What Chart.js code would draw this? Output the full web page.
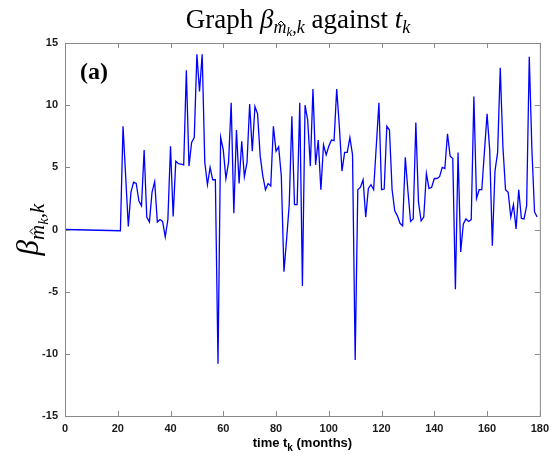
<!DOCTYPE html>
<html>
<head>
<meta charset="utf-8">
<script src="https://cdn.jsdelivr.net/npm/chart.js@4.4.0/dist/chart.umd.min.js"></script>
<style>
html, body { margin: 0; padding: 0; background: #fff; }
#wrap { width: 555px; height: 463px; }
</style>
</head>
<body>
<div id="wrap"><canvas id="c" width="555" height="463"></canvas></div>
<script>
const months = [0, 21, 22, 24, 25, 26, 27, 28, 29, 30, 31, 32, 33, 34, 35, 36, 37, 38, 39, 40,
  41, 42, 43, 44, 45, 46, 47, 48, 49, 50, 51, 52, 53, 54, 55, 56, 57, 58, 59, 60,
  61, 62, 63, 64, 65, 66, 67, 68, 69, 70, 71, 72, 73, 74, 75, 76, 77, 78, 79, 80,
  81, 82, 83, 84, 85, 86, 87, 88, 89, 90, 91, 92, 93, 94, 95, 96, 97, 98, 99, 100,
  101, 102, 103, 104, 105, 106, 107, 108, 109, 110, 111, 112, 113, 114, 115, 116, 117, 119, 120,
  121, 122, 123, 124, 125, 126, 127, 128, 129, 130, 131, 132, 133, 134, 135, 136, 137, 138, 139, 140,
  141, 142, 143, 144, 145, 146, 147, 148, 149, 150, 151, 152, 153, 154, 155, 156, 157, 158, 160,
  161, 162, 163, 164, 165, 166, 167, 168, 169, 170, 171, 172, 173, 174, 175, 176, 177, 178, 179];
const beta = [0, -0.1, 8.3, 0.25, 3.0, 3.8, 3.7, 2.3, 1.9, 6.4, 1.0, 0.6, 3.0, 3.85, 0.6, 0.8, 0.65, -0.6, 0.8, 6.7,
  1.05, 5.5, 5.3, 5.25, 5.2, 12.8, 5.1, 7.0, 7.4, 14.1, 11.1, 14.1, 5.4, 3.6, 5.0, 4.0, 4.0, -10.8, 7.4, 6.4,
  4.1, 5.4, 10.2, 1.3, 8.0, 3.7, 7.1, 4.25, 5.4, 10.1, 6.3, 9.9, 9.3, 5.9, 4.3, 3.2, 3.7, 3.5, 8.3, 6.3,
  6.65, 4.3, -3.4, -0.8, 2.0, 9.1, 2.0, 2.0, 10.2, -4.55, 10.0, 8.8, 5.1, 11.3, 5.2, 7.2, 3.2, 6.8, 6.0, 6.7,
  7.2, 7.15, 11.3, 8.3, 4.7, 6.2, 6.2, 7.4, 6.0, -10.5, 3.2, 3.4, 4.0, 1.0, 3.3, 3.6, 3.2, 10.2, 3.2,
  3.25, 8.3, 8.0, 3.2, 1.5, 1.1, 0.5, 0.3, 5.8, 3.1, 0.65, 0.85, 8.6, 2.2, 0.7, 1.0, 4.5, 3.3, 3.4, 4.1,
  4.1, 4.25, 5.0, 4.9, 7.7, 5.9, 5.7, -4.8, 6.2, -1.8, 0.45, 0.85, 0.65, 0.8, 10.7, 2.5, 3.2, 3.2, 9.3,
  6.4, -1.3, 4.7, 6.2, 13.0, 6.7, 3.2, 3.0, 1.0, 2.0, 0.05, 3.2, 0.9, 0.85, 1.9, 13.9, 6.4, 1.4, 1.0];
const xTicks = [0, 20, 40, 60, 80, 100, 120, 140, 160, 180];
const yTicks = [-15, -10, -5, 0, 5, 10, 15];

const serif = '"Liberation Serif", "DejaVu Serif", serif';
const sans = '"Liberation Sans", Arial, sans-serif';

// draws a row of text pieces, each piece: {t, f, dy, hat}
function drawPieces(ctx, pieces, x, y, align) {
  let total = 0;
  pieces.forEach(p => { ctx.font = p.f; p.w = ctx.measureText(p.t).width; total += p.w; });
  let cx = align === 'center' ? x - total / 2 : x;
  ctx.textAlign = 'left';
  ctx.textBaseline = 'alphabetic';
  pieces.forEach(p => {
    ctx.font = p.f;
    ctx.fillText(p.t, cx, y + (p.dy || 0));
    if (p.hat) {
      ctx.save();
      ctx.lineWidth = 1;
      ctx.beginPath();
      let hx = cx + p.w / 2 + 1, hy = y + (p.dy || 0) - p.hat;
      ctx.moveTo(hx - 3, hy + 2);
      ctx.lineTo(hx, hy - 1);
      ctx.lineTo(hx + 3, hy + 2);
      ctx.stroke();
      ctx.restore();
    }
    cx += p.w;
  });
}

const decor = {
  id: 'decor',
  afterDraw(chart) {
    const ctx = chart.ctx;
    const a = chart.chartArea;
    const xs = chart.scales.x, ys = chart.scales.y;
    ctx.save();
    ctx.strokeStyle = '#8a8a8a';
    ctx.lineWidth = 1;
    ctx.strokeRect(a.left + 0.5, a.top + 0.5, a.right - a.left, a.bottom - a.top);
    ctx.beginPath();
    xTicks.forEach(v => {
      let px = Math.round(xs.getPixelForValue(v)) + 0.5;
      ctx.moveTo(px, a.bottom); ctx.lineTo(px, a.bottom - 5);
      ctx.moveTo(px, a.top); ctx.lineTo(px, a.top + 5);
    });
    yTicks.forEach(v => {
      let py = Math.round(ys.getPixelForValue(v)) + 0.5;
      ctx.moveTo(a.left, py); ctx.lineTo(a.left + 5, py);
      ctx.moveTo(a.right, py); ctx.lineTo(a.right - 5, py);
    });
    ctx.stroke();

    ctx.fillStyle = '#000';
    ctx.strokeStyle = '#000';
    drawPieces(ctx, [
      { t: 'Graph ', f: '27px ' + serif },
      { t: 'β', f: 'italic 27px ' + serif },
      { t: 'm', f: 'italic 18px ' + serif, dy: 5, hat: 11 },
      { t: 'k', f: 'italic 13px ' + serif, dy: 8 },
      { t: ',k', f: 'italic 18px ' + serif, dy: 5 },
      { t: ' against ', f: '27px ' + serif },
      { t: 't', f: 'italic 27px ' + serif },
      { t: 'k', f: 'italic 18px ' + serif, dy: 5 }
    ], 298, 28, 'center');

    ctx.font = 'bold 24px ' + serif;
    ctx.textAlign = 'left';
    ctx.fillText('(a)', 80, 79);

    drawPieces(ctx, [
      { t: 'time t', f: 'bold 13px ' + sans },
      { t: 'k', f: 'bold 10px ' + sans, dy: 4 },
      { t: ' (months)', f: 'bold 13px ' + sans }
    ], (a.left + a.right) / 2, 447, 'center');

    ctx.translate(38, (a.top + a.bottom) / 2);
    ctx.rotate(-Math.PI / 2);
    drawPieces(ctx, [
      { t: 'β', f: 'italic 31px ' + serif },
      { t: 'm', f: 'italic 21px ' + serif, dy: 6, hat: 13 },
      { t: 'k', f: 'italic 15px ' + serif, dy: 10 },
      { t: ',k', f: 'italic 21px ' + serif, dy: 6 }
    ], 0, 0, 'center');
    ctx.restore();
  }
};

const ctx = document.getElementById('c').getContext('2d');
const chart = new Chart(ctx, {
  type: 'line',
  data: {
    datasets: [{
      data: months.map((m, i) => ({ x: m, y: beta[i] })),
      borderColor: '#0000ff',
      borderWidth: 1.3,
      pointRadius: 0,
      tension: 0,
      fill: false
    }]
  },
  options: {
    responsive: false,
    animation: false,
    layout: { padding: { top: 43, right: 14, left: 0, bottom: 0 } },
    plugins: { legend: { display: false }, tooltip: { enabled: false }, title: { display: false } },
    scales: {
      x: {
        type: 'linear',
        min: 0,
        max: 180,
        afterBuildTicks: s => { s.ticks = xTicks.map(v => ({ value: v })); },
        afterFit: s => { s.height = 47; },
        grid: { display: false, drawTicks: false },
        border: { display: false },
        ticks: { padding: 6, color: '#1a1a1a', font: { family: sans, size: 11, weight: 'bold' }, maxRotation: 0 }
      },
      y: {
        min: -15,
        max: 15,
        afterBuildTicks: s => { s.ticks = yTicks.map(v => ({ value: v })); },
        afterFit: s => { s.width = 65; },
        grid: { display: false, drawTicks: false },
        border: { display: false },
        ticks: { padding: 7, color: '#1a1a1a', font: { family: sans, size: 11, weight: 'bold' } }
      }
    }
  },
  plugins: [decor]
});
</script>
</body>
</html>
